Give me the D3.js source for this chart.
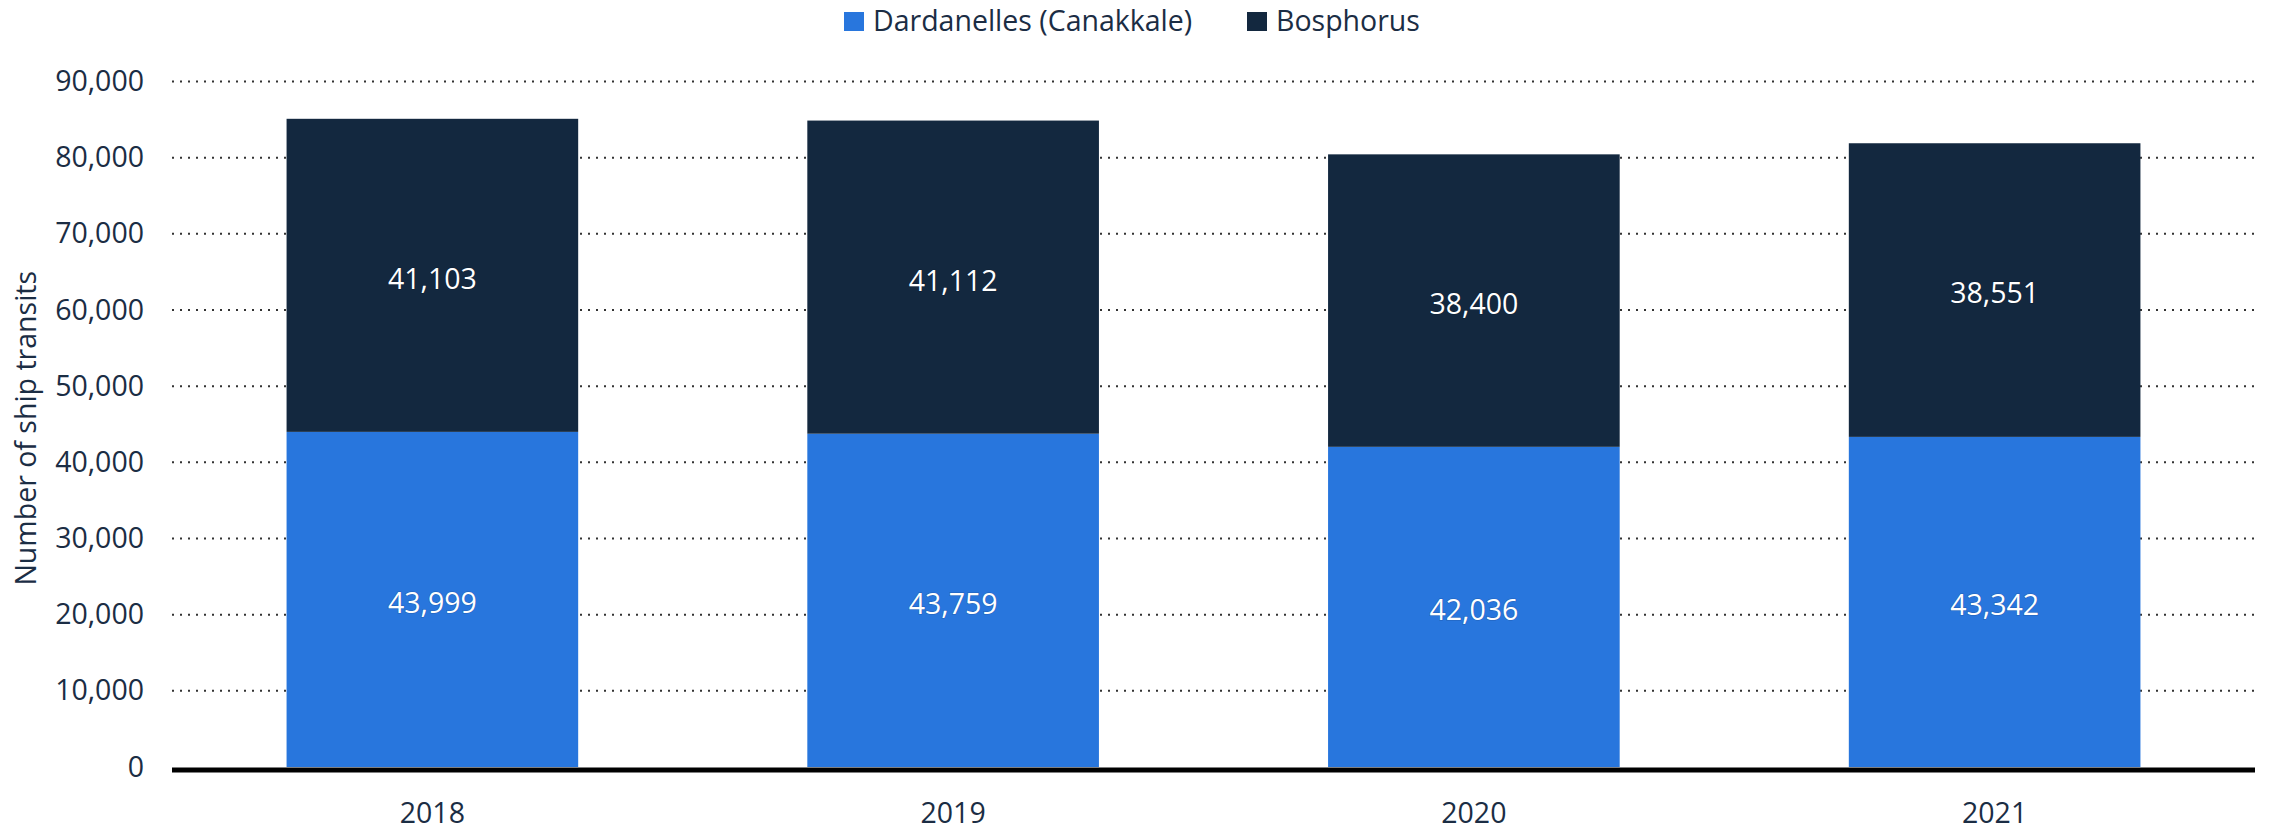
<!DOCTYPE html>
<html>
<head>
<meta charset="utf-8">
<script src="https://cdn.jsdelivr.net/npm/d3@7"></script>
<style>
  html, body { margin: 0; padding: 0; background: #fff; }
  svg { display: block; font-family: "Open Sans", sans-serif; }
</style>
</head>
<body>
<svg id="chart" width="2280" height="831"></svg>
<script>
// ---- data ----
const years = ["2018", "2019", "2020", "2021"];
const dardanelles = [43999, 43759, 42036, 43342];
const bosphorus = [41103, 41112, 38400, 38551];
const seriesNames = ["Dardanelles (Canakkale)", "Bosphorus"];
const yTicks = [0, 10000, 20000, 30000, 40000, 50000, 60000, 70000, 80000, 90000];
const yTitle = "Number of ship transits";

// ---- styles ----
const colors = ["#2876dd", "#13283f"];
const textColor = "#1b2d44";
const fontSize = 28.5;

const svg = d3.select("#chart");
const plotLeft = 172, plotRight = 2255, plotTop = 81.5, plotBottom = 767;

const rows = years.map((y, i) => ({ year: y, d: dardanelles[i], b: bosphorus[i] }));
const stack = d3.stack().keys(["d", "b"]);
const stacked = stack(rows);

const x = d3.scaleBand().domain(years).range([plotLeft, plotRight]).paddingInner(0.44).paddingOuter(0.22);
const y = d3.scaleLinear().domain([0, 90000]).range([plotBottom, plotTop]);

// gridlines
const grid = svg.append("g");
grid.selectAll("line").data(yTicks.filter(t => t > 0)).join("line")
  .attr("x1", plotLeft).attr("x2", plotRight)
  .attr("y1", d => y(d)).attr("y2", d => y(d))
  .attr("stroke", "#333").attr("stroke-width", 2)
  .attr("stroke-dasharray", "2,6");

// y axis labels
const yAxis = d3.axisLeft(y).tickValues(yTicks).tickSize(0).tickPadding(0)
  .tickFormat(d3.format(","));
const yg = svg.append("g").attr("transform", `translate(${144},0)`).call(yAxis);
yg.select(".domain").remove();
yg.selectAll("text").attr("font-size", fontSize).attr("fill", textColor)
  .attr("font-family", "Open Sans, sans-serif");

// y title
svg.append("text")
  .attr("transform", `translate(${36},${(plotTop + plotBottom) / 2 + 4}) rotate(-90)`)
  .attr("text-anchor", "middle")
  .attr("font-size", fontSize).attr("fill", textColor)
  .text(yTitle);

// bars
const layers = svg.append("g").selectAll("g").data(stacked).join("g")
  .attr("fill", (d, i) => colors[i]);
layers.selectAll("rect").data(d => d).join("rect")
  .attr("x", d => x(d.data.year))
  .attr("width", x.bandwidth())
  .attr("y", d => y(d[1]))
  .attr("height", d => y(d[0]) - y(d[1]));

// value labels
const labels = svg.append("g");
stacked.forEach(layer => {
  labels.selectAll(null).data(layer).join("text")
    .attr("x", d => x(d.data.year) + x.bandwidth() / 2)
    .attr("y", d => (y(d[0]) + y(d[1])) / 2)
    .attr("dy", "0.47em")
    .attr("text-anchor", "middle")
    .attr("font-size", fontSize)
    .attr("fill", "#fff")
    .style("paint-order", "stroke")
    .attr("stroke", "rgba(0,0,0,0.15)").attr("stroke-width", 1.5)
    .text(d => d3.format(",")(d[1] - d[0]));
});

// x axis
const xAxis = d3.axisBottom(x).tickSize(0).tickPadding(0);
const xg = svg.append("g").attr("transform", `translate(0,${plotBottom})`).call(xAxis);
xg.select(".domain").remove();
xg.selectAll("text").attr("font-size", fontSize).attr("fill", textColor)
  .attr("font-family", "Open Sans, sans-serif")
  .attr("y", 46).attr("dy", "0.35em");
svg.append("line")
  .attr("x1", plotLeft).attr("x2", plotRight)
  .attr("y1", plotBottom + 3).attr("y2", plotBottom + 3)
  .attr("stroke", "#000").attr("stroke-width", 5);

// legend
const legendItems = [
  { name: seriesNames[0], color: colors[0], x: 844 },
  { name: seriesNames[1], color: colors[1], x: 1247 }
];
const lg = svg.append("g");
legendItems.forEach(it => {
  lg.append("rect").attr("x", it.x).attr("y", 12).attr("width", 20).attr("height", 19)
    .attr("fill", it.color);
  lg.append("text").attr("x", it.x + 29).attr("y", 21).attr("dy", "0.35em")
    .attr("font-size", fontSize).attr("fill", textColor).text(it.name);
});
</script>
</body>
</html>
